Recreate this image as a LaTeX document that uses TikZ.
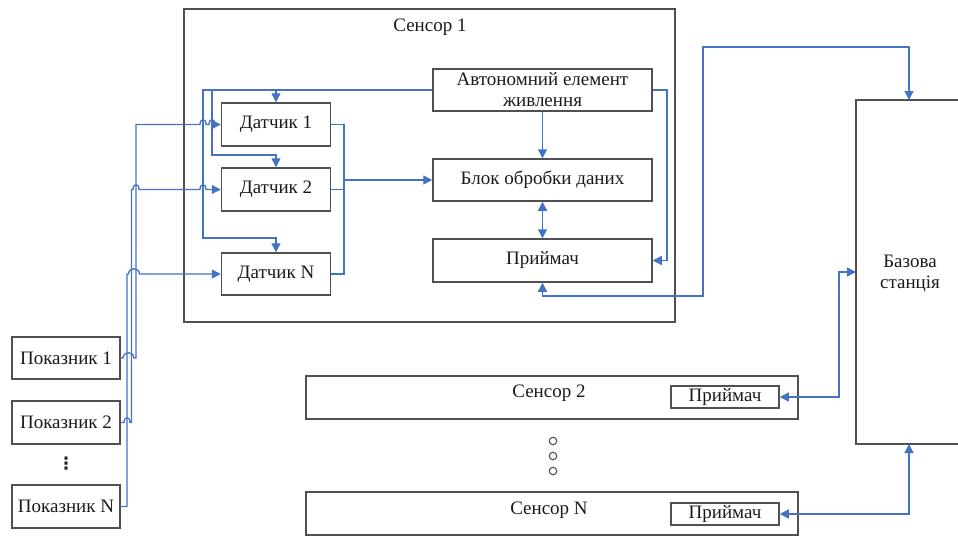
\documentclass[tikz,border=0pt]{standalone}
\usepackage{fontspec}
\setmainfont{Liberation Serif}
\newfontfamily\symfont{DejaVu Sans}
\usetikzlibrary{arrows.meta}
\definecolor{lnk}{HTML}{4472C4}
\definecolor{bx}{HTML}{505050}
\definecolor{txt}{HTML}{1A1A1A}
\begin{document}
\begin{tikzpicture}[x=1pt,y=-1pt,
  font=\fontsize{19}{21}\selectfont,
  box/.style={draw=bx,line width=1.5pt,inner sep=0pt,text=txt,align=center},
  lbl/.style={inner sep=0pt,text=txt,align=center},
  link/.style={draw=lnk,line width=1.3pt},
  tp/.tip={Triangle[length=9pt,width=9pt]},
  ar/.style={link,-tp},
  dar/.style={link,tp-tp}]
\useasboundingbox (0,0) rectangle (958,536);
% Sensor 1 frame
\node[box,minimum width=491pt,minimum height=313pt] (s1) at (429.5,165.5) {};
\node[lbl] (s1t) at (430,27) {Сенсор 1};
% inner boxes
\node[box,minimum width=109pt,minimum height=43pt] (d1) at (276,124.5) {Датчик 1};
\node[box,minimum width=109pt,minimum height=43pt] (d2) at (276,189.5) {Датчик 2};
\node[box,minimum width=109pt,minimum height=42pt] (dN) at (276,274) {Датчик N};
\node[box,minimum width=219pt,minimum height=42pt] (pow) at (542.5,90) {Автономний елемент\\живлення};
\node[box,minimum width=219pt,minimum height=42pt] (blk) at (542.5,180) {Блок обробки даних};
\node[box,minimum width=219pt,minimum height=43pt] (rx) at (542.5,260.5) {Приймач};
% indicators
\node[box,minimum width=108pt,minimum height=42pt] (p1) at (66,358) {Показник 1};
\node[box,minimum width=108pt,minimum height=43pt] (p2) at (66,422.5) {Показник 2};
\node[lbl,font=\symfont\bfseries\fontsize{17}{17}\selectfont] (pd) at (66,464) {⋮};
\node[box,minimum width=108pt,minimum height=43pt] (pN) at (66,506.5) {Показник N};
% other sensors
\node[box,minimum width=492pt,minimum height=43pt] (s2) at (552,397.5) {};
\node[lbl] (s2t) at (549,393) {Сенсор 2};
\node[box,minimum width=108pt,minimum height=22pt] (r2) at (725,397) {Приймач};
\node[box,minimum width=492pt,minimum height=43pt] (sN) at (552,513.5) {};
\node[lbl] (sNt) at (549,510) {Сенсор N};
\node[box,minimum width=108pt,minimum height=22pt] (rN) at (725,514) {Приймач};
\foreach \yy/\nm in {441/c1,456/c2,471/c3}
  \node[draw=bx,line width=1.1pt,circle,inner sep=0pt,minimum size=7.5pt] (\nm) at (553,\yy) {};
% base station
\node[lbl,minimum width=102pt,minimum height=344pt] (base) at (907,272) {};
\draw[draw=bx,line width=1.5pt] (960,100) -- (856,100) -- (856,444) -- (960,444);
\node[lbl] (bt) at (910,274) {Базова\\станція};
\coordinate (btop) at (909,100);
\coordinate (bbot) at (909,444);
\coordinate (bleft) at (856,272);
% power distribution
\draw[ar] (pow.west) -- (203,90) -- (203,238) -| (dN.north);
\draw[ar] (212,90) -- (212,155) -| (d2.north);
\draw[ar] (d1.north |- pow.west) -- (d1.north);
% sensor outputs
\draw[link] (d1.east) -- (344,124.5) -- (344,274) -- (dN.east);
\draw[link] (d2.east) -- (344,189.5);
\draw[ar] (344,180) -- (blk.west);
\draw[ar] (pow.south) -- (blk.north);
\draw[dar] (blk.south) -- (rx.north);
\draw[ar] (pow.east) -- (667,90) |- (rx.east);
% links to base station
\draw[dar] (rx.south) -- (542.5,296) -- (703,296) -- (703,47) -| (btop);
\draw[dar] (r2.east) -- (839,397) |- (bleft);
\draw[dar] (rN.east) -| (bbot);
% indicator links
\draw[ar] (pN.east) -- (127,506.5) -- (127,274) -- (128.5,274)
  .. controls (128.5,267) and (139.5,267) .. (139.5,274) -- (dN.west);
\draw[ar] (p2.east) -- (124,422.5) .. controls (124,416) and (130,416) .. (130,422.5)
  -- (131.5,422.5) -- (131.5,189.5) -- (133,189.5)
  .. controls (133,183) and (139,183) .. (139,189.5) -- (200,189.5)
  .. controls (200,183) and (206,183) .. (206,189.5) -- (d2.west);
\draw[ar] (p1.east) -- (123,358) .. controls (123,351) and (134,351) .. (134,358)
  -- (136,358) -- (136,124.5) -- (200,124.5)
  .. controls (200,118) and (206,118) .. (206,124.5) -- (209,124.5)
  .. controls (209,118) and (215,118) .. (215,124.5) -- (d1.west);
\end{tikzpicture}
\end{document}
